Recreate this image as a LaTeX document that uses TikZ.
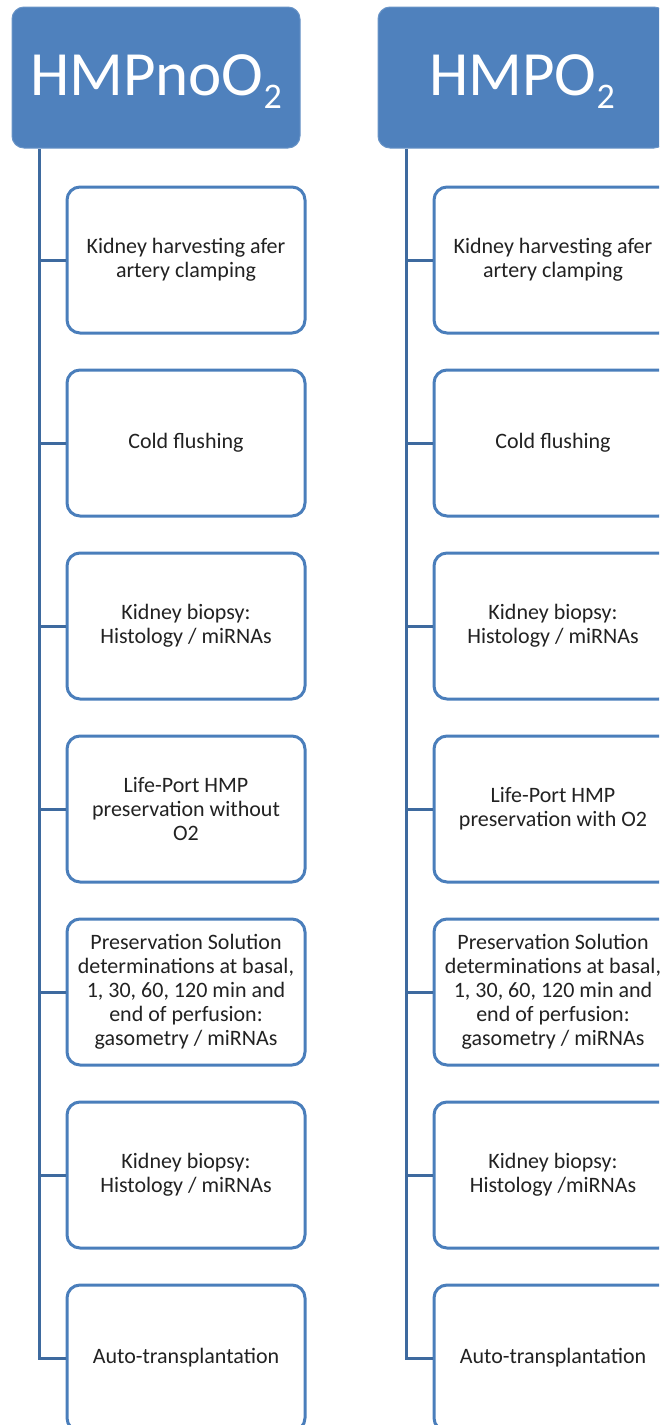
\documentclass[tikz,border=0pt]{standalone}
\usepackage{fontspec}
\setmainfont{Carlito}
\definecolor{hdrfill}{HTML}{4F81BD}
\definecolor{boxline}{HTML}{4A7EBB}
\definecolor{conline}{HTML}{3E6A9F}
\definecolor{txt}{HTML}{222222}
\tikzset{
  hdrbox/.style={rectangle, rounded corners=12pt, fill=hdrfill, draw=hdrfill!85!white, line width=1pt,
    minimum width=288pt, minimum height=141pt, text=white, inner sep=0pt,
    font=\fontsize{63}{70}\selectfont},
  stepbox/.style={rectangle, rounded corners=13pt, draw=boxline, line width=3pt, fill=white,
    minimum width=238pt, minimum height=146pt, align=center, text=txt, inner sep=2pt,
    font=\fontsize{22}{24}\selectfont},
  conn/.style={draw=conline, line width=3pt},
}
\newcommand{\subtwo}{\raisebox{-0.22em}{\fontsize{36}{36}\selectfont 2}}
\newcommand{\hdrtext}[1]{\raisebox{-4pt}[\height][\depth]{#1}}
\begin{document}
\begin{tikzpicture}[x=1pt,y=-1pt]
\useasboundingbox (0,0) rectangle (659,1425);
\clip (0,0) rectangle (659,1425);
% headers
\node[hdrbox] (hl) at (156,77.5) {\hdrtext{HMPnoO\subtwo}};
\node[hdrbox] (hr) at (522,77.5) {\hdrtext{HMPO\subtwo}};
% spine coordinates
\coordinate (sl) at (39,149);
\coordinate (sr) at (406,149);
% left column
\node[stepbox] (l1) at (186,260) {Kidney harvesting afer\\artery clamping};
\node[stepbox] (l2) at (186,443) {Cold flushing};
\node[stepbox] (l3) at (186,626) {Kidney biopsy:\\Histology / miRNAs};
\node[stepbox] (l4) at (186,809) {Life-Port HMP\\preservation without\\O2};
\node[stepbox] (l5) at (186,992) {Preservation Solution\\determinations at basal,\\1, 30, 60, 120 min and\\end of perfusion:\\gasometry / miRNAs};
\node[stepbox] (l6) at (186,1175) {Kidney biopsy:\\Histology / miRNAs};
\node[stepbox] (l7) at (186,1358) {Auto-transplantation};
% right column
\node[stepbox] (r1) at (553,260) {Kidney harvesting afer\\artery clamping};
\node[stepbox] (r2) at (553,443) {Cold flushing};
\node[stepbox] (r3) at (553,626) {Kidney biopsy:\\Histology / miRNAs};
\node[stepbox] (r4) at (553,809) {Life-Port HMP\\preservation with O2};
\node[stepbox] (r5) at (553,992) {Preservation Solution\\determinations at basal,\\1, 30, 60, 120 min and\\end of perfusion:\\gasometry / miRNAs};
\node[stepbox] (r6) at (553,1175) {Kidney biopsy:\\Histology /miRNAs};
\node[stepbox] (r7) at (553,1358) {Auto-transplantation};
% connectors
\draw[conn, line join=miter] (sl) |- (l7.west);
\draw[conn, line join=miter] (sr) |- (r7.west);
\foreach \i in {1,...,6}{
  \draw[conn] (sl |- l\i.west) -- (l\i.west);
  \draw[conn] (sr |- r\i.west) -- (r\i.west);
}
\end{tikzpicture}
\end{document}
